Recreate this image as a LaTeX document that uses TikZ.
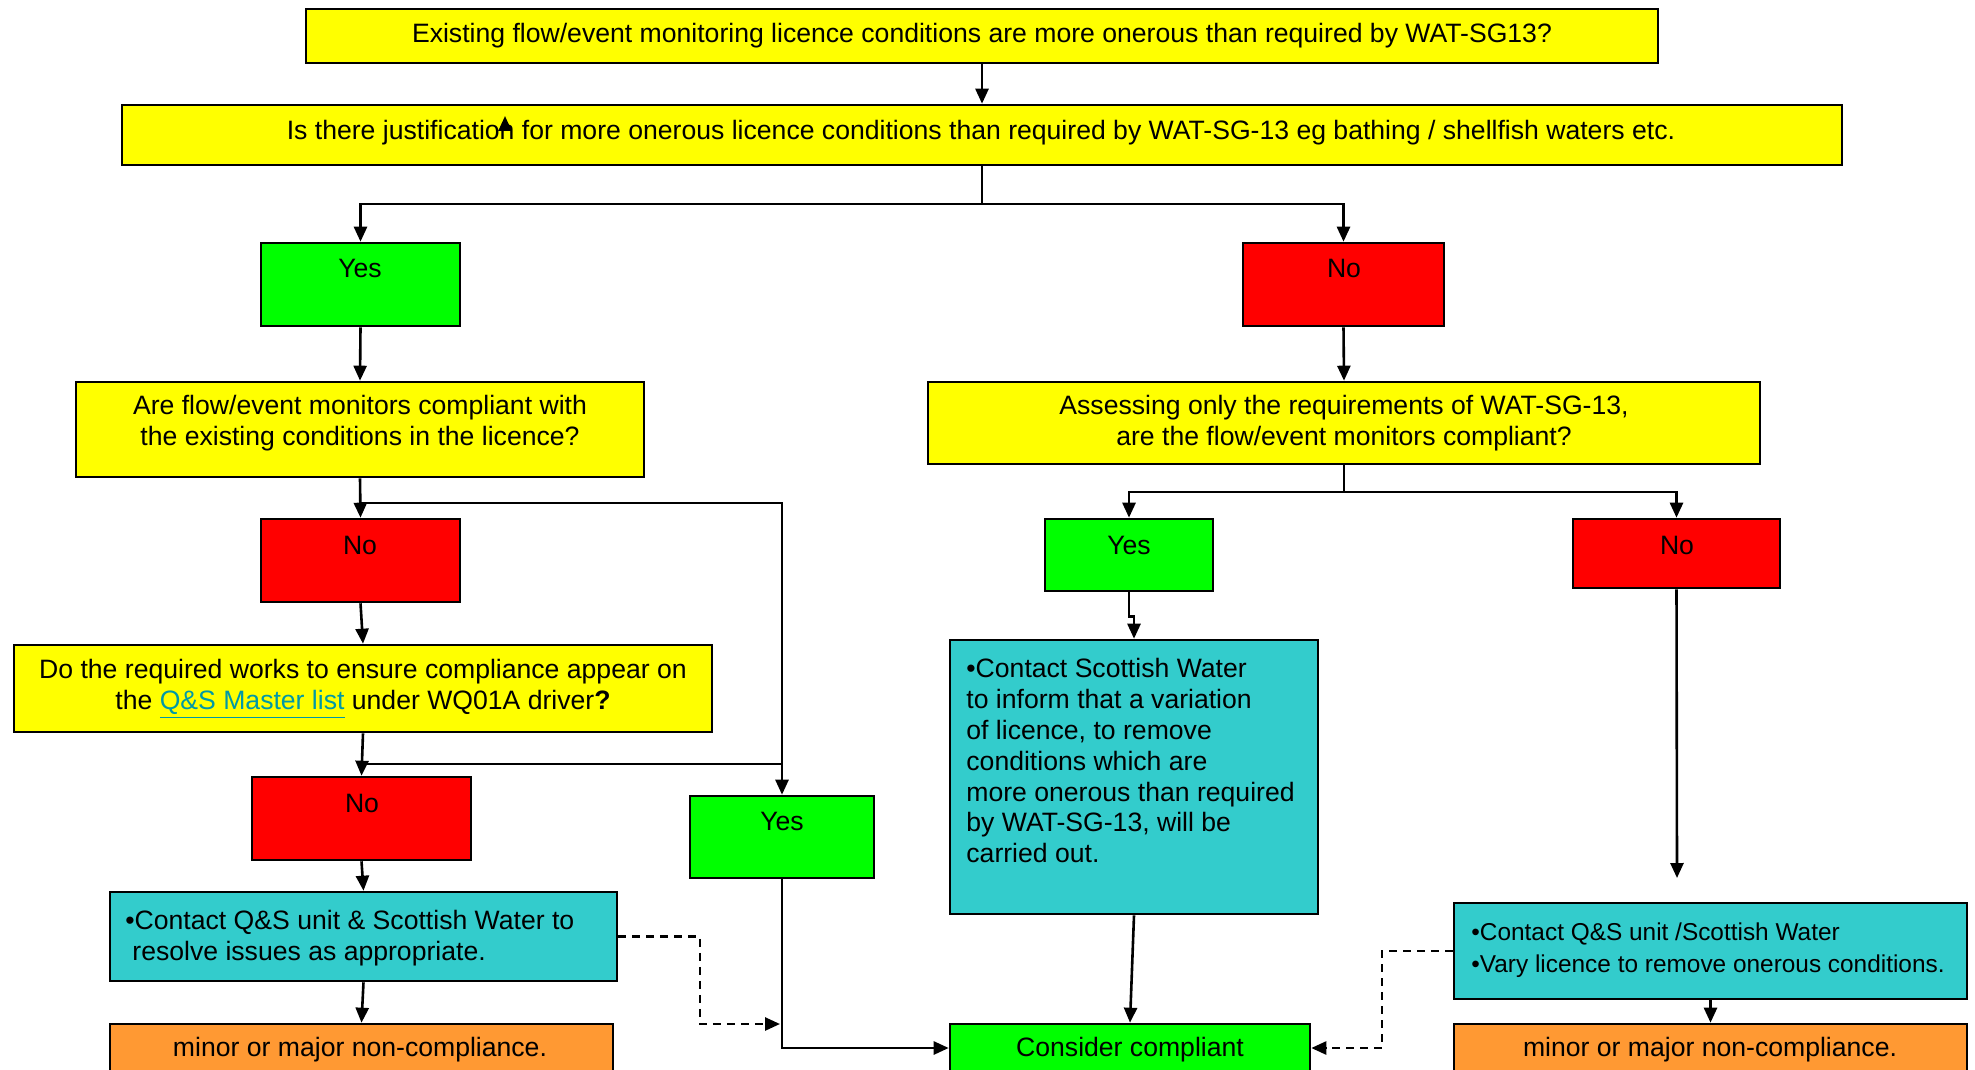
\documentclass[tikz,border=0pt]{standalone}
\usepackage{fontspec}
\setmainfont{Liberation Sans}
\usetikzlibrary{arrows.meta}
\definecolor{yel}{HTML}{FFFF00}
\definecolor{grn}{HTML}{00FF00}
\definecolor{rd}{HTML}{FF0000}
\definecolor{tl}{HTML}{33CCCC}
\definecolor{org}{HTML}{FF9933}
\definecolor{lnk}{HTML}{0099A6}
\begin{document}
\begin{tikzpicture}[x=0.5pt,y=-0.5pt,
  box/.style={draw=black, line width=1.3pt, rectangle, inner sep=0pt},
  txt/.style={inner sep=0pt, font=\fontsize{13.3}{15.4}\selectfont, align=center,
    execute at begin node=\strut, execute at end node=\strut},
  txtl/.style={txt, align=left, anchor=west},
  ln/.style={line width=1.3pt},
  arr/.style={line width=1.3pt, -{Triangle[length=7.5pt,width=6.5pt]}},
  dsh/.style={line width=1.3pt, dash pattern=on 4pt off 3pt, -{Triangle[length=7.5pt,width=6.5pt]}}]

\path[fill=white] (0,0) rectangle (1975,1070);
\useasboundingbox (0,0) rectangle (1975,1070);
\clip (0,0) rectangle (1975,1070);

% boxes
\node[box, fill=yel, minimum width=676pt, minimum height=27pt] (top) at (982,36) {};
\node[box, fill=yel, minimum width=860pt, minimum height=30pt] (q1) at (982,135) {};
\node[box, fill=grn, minimum width=99.5pt, minimum height=41.5pt] (yes1) at (360.5,284.5) {};
\node[box, fill=rd, minimum width=100.5pt, minimum height=41.5pt] (no1) at (1343.5,284.5) {};
\node[box, fill=yel, minimum width=284pt, minimum height=47.5pt] (q2L) at (360,429.5) {};
\node[box, fill=yel, minimum width=416pt, minimum height=41pt] (q2R) at (1344,423) {};
\node[box, fill=rd, minimum width=99.5pt, minimum height=41.5pt] (no2) at (360.5,560.5) {};
\node[box, fill=yel, minimum width=349pt, minimum height=43.5pt] (q3) at (363,688.5) {};
\node[box, fill=rd, minimum width=109.5pt, minimum height=41.5pt] (no3) at (361.5,818.5) {};
\node[box, fill=grn, minimum width=92pt, minimum height=41pt] (yes3) at (782,837) {};
\node[box, fill=tl, minimum width=253.5pt, minimum height=44.5pt] (act1) at (363.5,936.5) {};
\node[box, fill=org, minimum width=251.5pt, minimum height=24pt] (nc1) at (361.5,1048) {};
\node[box, fill=grn, minimum width=180pt, minimum height=24pt] (comp) at (1130,1048) {};
\node[box, fill=grn, minimum width=84pt, minimum height=36pt] (yes2) at (1129,555) {};
\node[box, fill=rd, minimum width=103.5pt, minimum height=34.5pt] (no4) at (1676.5,553.5) {};
\node[box, fill=tl, minimum width=184pt, minimum height=137pt] (act2) at (1134,777) {};
\node[box, fill=tl, minimum width=256.5pt, minimum height=48pt] (act3) at (1710.5,951) {};
\node[box, fill=org, minimum width=256.5pt, minimum height=24pt] (nc2) at (1710.5,1048) {};

% texts
\node[txt] (ttop) at (982,36.3) {Existing flow/event monitoring licence conditions are more onerous than required by WAT-SG13?};
\node[txt] (tq1) at (981,133.3) {Is there justification for more onerous licence conditions than required by WAT-SG-13 eg bathing / shellfish waters etc.};
\node[txt] (tyes1) at (360,271.3) {Yes};
\node[txt] (tno1) at (1344,271.3) {No};
\node[txt] (tq2L) at (360,425.3) {Are flow/event monitors compliant with\\the existing conditions in the licence?};
\node[txt] (tq2R) at (1344,425.3) {Assessing only the requirements of WAT-SG-13,\\are the flow/event monitors compliant?};
\node[txt] (tno2) at (360,548.3) {No};
\node[txt] (tq3) at (363,688.8) {Do the required works to ensure compliance appear on\\the \textcolor{lnk}{\underline{Q\&S Master list}} under WQ01A driver\textbf{?}};
\node[txt] (tno3) at (362,806.3) {No};
\node[txt] (tyes3) at (782,824.3) {Yes};
\node[txtl] (tact1) at (125,939.8) {•Contact Q\&S unit \& Scottish Water to\\\hspace*{3.5pt}resolve issues as appropriate.};
\node[txt] (tnc1) at (360,1050.3) {minor or major non-compliance.};
\node[txt] (tcomp) at (1130,1050.3) {Consider compliant};
\node[txt] (tyes2) at (1129,548.3) {Yes};
\node[txt] (tno4) at (1677,548.3) {No};
\node[txtl] (tact2) at (966,765.3) {•Contact Scottish Water\\to inform that a variation\\of licence, to remove\\conditions which are\\more onerous than required\\by WAT-SG-13, will be\\carried out.};
\node[txtl, font=\fontsize{12.2}{16}\selectfont] (tact3) at (1471,952) {•Contact Q\&S unit /Scottish Water\\•Vary licence to remove onerous conditions.};
\node[txt] (tnc2) at (1710,1050.3) {minor or major non-compliance.};

% junction coordinates
\coordinate (j1) at (982,204);
\coordinate (j2) at (360,503);
\coordinate (j3) at (363,764);
\coordinate (j4) at (782,764);
\coordinate (j5) at (1344,492);
\coordinate (e1) at (1677,878);
\coordinate (d1) at (700,1024);
\coordinate (d2) at (780,1024);
\coordinate (d3) at (1382,1048);
\coordinate (sa1) at (505,131);
\coordinate (sa2) at (505,116);

% connectors
\draw[arr] (top.south) -- (q1.north);
\draw[ln] (q1.south) -- (j1);
\draw[arr] (j1) -| (yes1.north);
\draw[arr] (j1) -| (no1.north);
\draw[arr] (sa1) -- (sa2);
\draw[arr] (yes1.south) -- (q2L.north);
\draw[arr] (no1.south) -- (q2R.north);
\draw[arr] (q2L.south) -- (no2.north);
\draw[arr] (j2) -| (yes3.north);
\draw[arr] (no2.south) -- (q3.north);
\draw[arr] (q3.south) -- (no3.north);
\draw[ln] (j3) -- (j4);
\draw[arr] (no3.south) -- (act1.north);
\draw[arr] (act1.south) -- (nc1.north);
\draw[arr] (yes3.south) |- (comp.west);
\draw[dsh] (act1.east) -| (d1) -- (d2);
\draw[ln] (q2R.south) -- (j5);
\draw[arr] (j5) -| (yes2.north);
\draw[arr] (j5) -| (no4.north);
\draw[arr] (yes2.south) -- ++(0,24) -| (act2.north);
\draw[arr] (act2.south) -- (comp.north);
\draw[arr] (no4.south) -- (e1);
\draw[arr] (act3.south) -- (nc2.north);
\draw[dsh] (act3.west) -| (d3) -- (comp.east);
\end{tikzpicture}
\end{document}
